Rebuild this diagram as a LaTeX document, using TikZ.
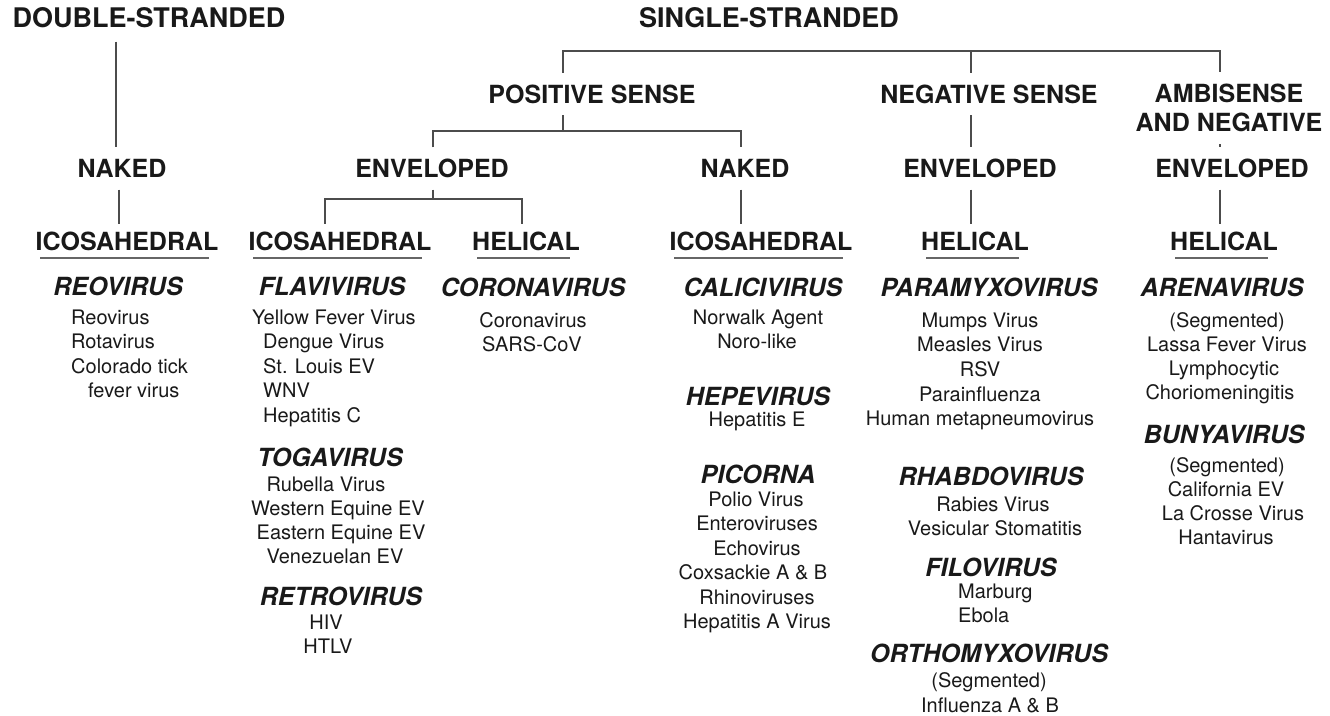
\documentclass[tikz,border=0pt]{standalone}
\usepackage{fontspec}
\setmainfont{TeX Gyre Heros}
\begin{document}
\begin{tikzpicture}[
  x=1pt, y=-1pt,
  every node/.append style = {text=black!90},
  virTop/.style   = {font=\fontsize{27}{32}\selectfont\bfseries, text height=19.5pt, text depth=0pt, inner xsep=0pt, inner ysep=14pt},
  virHead/.style  = {font=\fontsize{25}{29}\selectfont\bfseries, text height=18pt, text depth=0pt, inner xsep=0pt, inner ysep=12pt},
  virTwo/.style   = {font=\fontsize{25}{29}\selectfont\bfseries, align=center, inner xsep=0pt, inner ysep=12pt},
  virMorph/.style = {virHead, inner ysep=8pt},
  virGenus/.style = {font=\fontsize{25}{29}\selectfont\bfseries\itshape, anchor=base, inner sep=0pt},
  virSpp/.style   = {font=\fontsize{20}{24}\selectfont, anchor=base, inner sep=0pt},
  virSppL/.style  = {virSpp, anchor=base west},
  virLink/.style  = {black!70, line width=1.1pt},
  virLine/.style  = {black!60, line width=1.5pt}
]
  \useasboundingbox (0,0) rectangle (1330,715);
  % strands
  \node[virTop] (ds) at (149,17.7) {DOUBLE-STRANDED};
  \node[virTop] (ss) at (769,17.7) {SINGLE-STRANDED};
  % sense
  \node[virHead] (ps)  at (592,94) {POSITIVE SENSE};
  \node[virHead] (neg) at (989,94) {NEGATIVE SENSE};
  \node[virTwo, anchor=north] (amb) at (1229,72) {AMBISENSE\\AND NEGATIVE};
  % envelope
  \node[virHead] (naked1) at (122,168.5) {NAKED};
  \node[virHead] (env2)   at (432,168.5) {ENVELOPED};
  \node[virHead] (naked2) at (745,168.5) {NAKED};
  \node[virHead] (env3)   at (980,168.5) {ENVELOPED};
  \node[virHead] (env4)   at (1232,168.5) {ENVELOPED};
  % capsid
  \node[virMorph] (icos1) at (127,241) {ICOSAHEDRAL};
  \node[virMorph] (icos2) at (340,241) {ICOSAHEDRAL};
  \node[virMorph] (hel2)  at (526,241) {HELICAL};
  \node[virMorph] (icos3) at (761,241) {ICOSAHEDRAL};
  \node[virMorph] (hel3)  at (975,241) {HELICAL};
  \node[virMorph] (hel4)  at (1224,241) {HELICAL};
  \foreach \n in {icos1,icos2,icos3,hel2,hel3,hel4}
    \draw[virLine] ([xshift=5pt]\n.south west) -- ([xshift=-10pt]\n.south east);

  % bars and stems
  \coordinate (ssL)  at (563,51);
  \coordinate (ssR)  at (1220,51);
  \coordinate (psL)  at (433,131);
  \coordinate (psR)  at (741,131);
  \coordinate (envL) at (325,199);
  \coordinate (envR) at (522,199);
  \coordinate (dsX)  at (116,0);
  \coordinate (n1X)  at (119,0);
  \coordinate (negX) at (971,0);
  \draw[virLink] (ds.south -| dsX) -- (naked1.north -| dsX);
  \draw[virLink] (naked1.south -| n1X) -- (icos1.north -| n1X);
  \draw[virLink] (ps.north -| ssL) -- (ssL) -- (ssR) -- (amb.north -| ssR);
  \draw[virLink] (negX |- ssL) -- (neg.north -| negX);
  \draw[virLink] (ps.south -| ssL) -- (ssL |- psL);
  \draw[virLink] (env2.north -| psL) -- (psL) -- (psR) -- (naked2.north -| psR);
  \draw[virLink] (env2.south -| psL) -- (psL |- envL);
  \draw[virLink] (icos2.north -| envL) -- (envL) -- (envR) -- (hel2.north -| envR);
  \draw[virLink] (naked2.south -| psR) -- (icos3.north -| psR);
  \draw[virLink] (neg.south -| negX) -- (env3.north -| negX);
  \draw[virLink] (env3.south -| negX) -- (hel3.north -| negX);
  \draw[virLink] (amb.south -| ssR) -- (env4.north -| ssR);
  \draw[virLink] (env4.south -| ssR) -- (hel4.north -| ssR);

  % double-stranded
  \node[virGenus] (reo) at (118,295) {REOVIRUS};
  \foreach \x/\t [count=\i] in {71/Reovirus, 71/Rotavirus, 71/Colorado tick, 88/fever virus}
    \node[virSppL] (reo\i) at (\x,{324+24.5*(\i-1)}) {\t};

  % positive sense, enveloped
  \node[virGenus] (flavi) at (332,295) {FLAVIVIRUS};
  \foreach \x/\t [count=\i] in {252/Yellow Fever Virus, 263/Dengue Virus, 263/St. Louis EV, 263/WNV, 263/Hepatitis C}
    \node[virSppL] (flavi\i) at (\x,{324+24.5*(\i-1)}) {\t};
  \node[virGenus] (toga) at (330,466) {TOGAVIRUS};
  \foreach \x/\t [count=\i] in {326/Rubella Virus, 338/Western Equine EV, 341/Eastern Equine EV, 335/Venezuelan EV}
    \node[virSpp] (toga\i) at (\x,{491+24.2*(\i-1)}) {\t};
  \node[virGenus] (retro) at (341,605) {RETROVIRUS};
  \foreach \x/\t [count=\i] in {326/HIV, 328/HTLV}
    \node[virSpp] (retro\i) at (\x,{629.5+24.2*(\i-1)}) {\t};
  \node[virGenus] (corona) at (533,296) {CORONAVIRUS};
  \foreach \x/\t [count=\i] in {533/Coronavirus, 532/SARS-CoV}
    \node[virSpp] (corona\i) at (\x,{327+24.2*(\i-1)}) {\t};

  % positive sense, naked
  \node[virGenus] (calici) at (763,296) {CALICIVIRUS};
  \foreach \x/\t [count=\i] in {758/Norwalk Agent, 757/Noro-like}
    \node[virSpp] (calici\i) at (\x,{324+24.2*(\i-1)}) {\t};
  \node[virGenus] (hepe) at (758,405) {HEPEVIRUS};
  \node[virSpp] (hepe1) at (757,426) {Hepatitis E};
  \node[virGenus] (picorna) at (758,483) {PICORNA};
  \foreach \x/\t [count=\i] in {756/Polio Virus, 757/Enteroviruses, 757/Echovirus, 753/Coxsackie A \& B, 757/Rhinoviruses, 757/Hepatitis A Virus}
    \node[virSpp] (picorna\i) at (\x,{506+24.5*(\i-1)}) {\t};

  % negative sense
  \node[virGenus] (paramyxo) at (989,296) {PARAMYXOVIRUS};
  \foreach \t [count=\i] in {Mumps Virus, Measles Virus, RSV, Parainfluenza, Human metapneumovirus}
    \node[virSpp] (paramyxo\i) at (980,{327+24.7*(\i-1)}) {\t};
  \node[virGenus] (rhabdo) at (991,485) {RHABDOVIRUS};
  \foreach \x/\t [count=\i] in {993/Rabies Virus, 995/Vesicular Stomatitis}
    \node[virSpp] (rhabdo\i) at (\x,{511+24.5*(\i-1)}) {\t};
  \node[virGenus] (filo) at (991,576) {FILOVIRUS};
  \foreach \t [count=\i] in {Marburg, Ebola}
    \node[virSppL] (filo\i) at (958,{598+24.3*(\i-1)}) {\t};
  \node[virGenus] (orthomyxo) at (989,662) {ORTHOMYXOVIRUS};
  \foreach \x/\t [count=\i] in {989/(Segmented), 990/Influenza A \& B}
    \node[virSpp] (orthomyxo\i) at (\x,{687+25*(\i-1)}) {\t};

  % ambisense
  \node[virGenus] (arena) at (1222,296) {ARENAVIRUS};
  \foreach \x/\t [count=\i] in {1227/(Segmented), 1227/Lassa Fever Virus, 1224/Lymphocytic, 1220/Choriomeningitis}
    \node[virSpp] (arena\i) at (\x,{327+24.3*(\i-1)}) {\t};
  \node[virGenus] (bunya) at (1224,443) {BUNYAVIRUS};
  \foreach \x/\t [count=\i] in {1227/(Segmented), 1226/California EV, 1233/La Crosse Virus, 1226/Hantavirus}
    \node[virSpp] (bunya\i) at (\x,{472+24.3*(\i-1)}) {\t};
\end{tikzpicture}
\end{document}
